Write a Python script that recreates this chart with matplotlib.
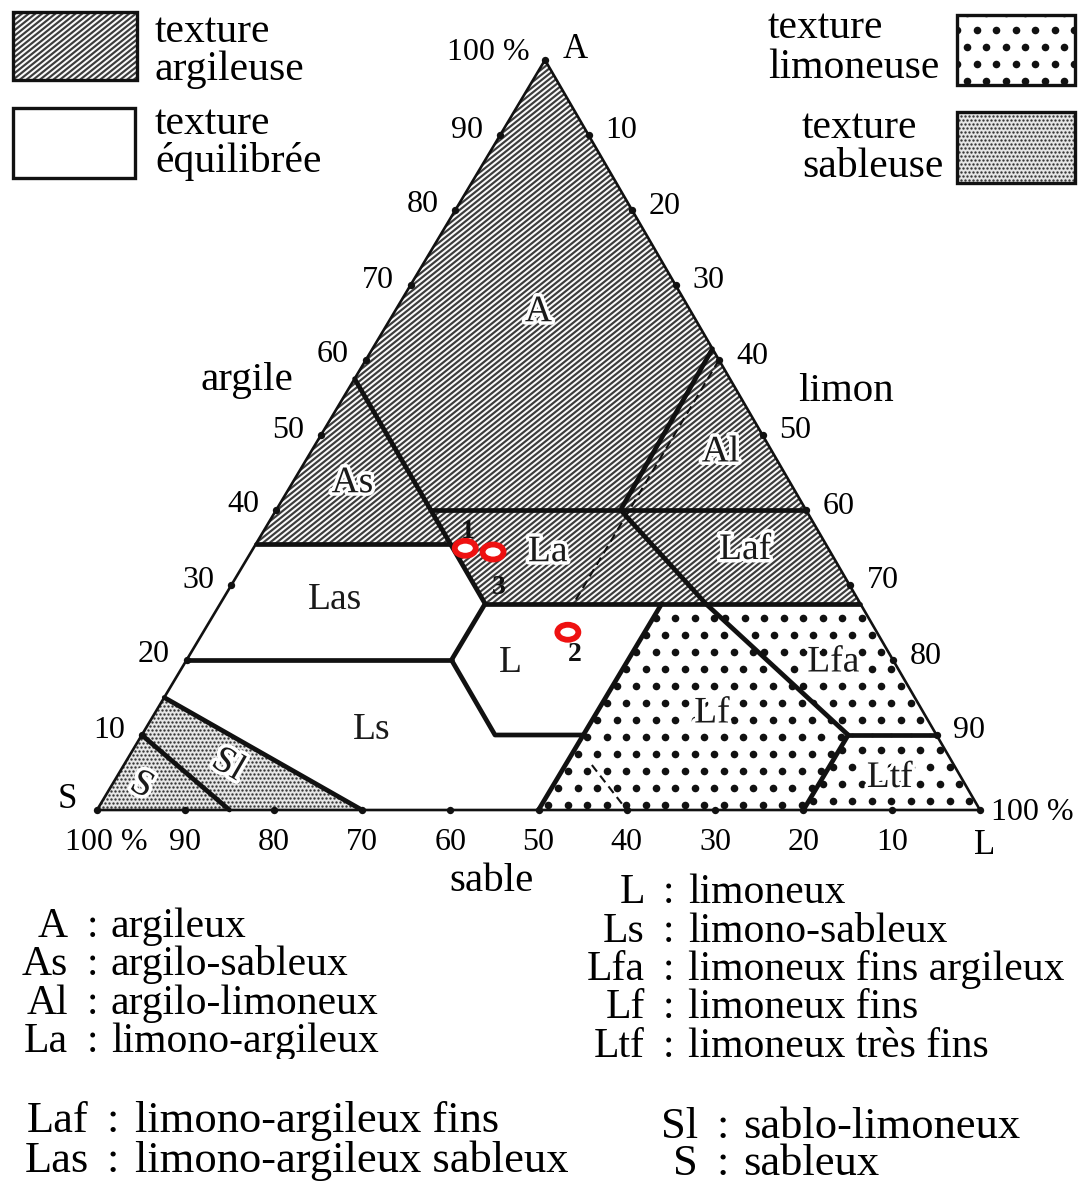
import numpy as np
import matplotlib
matplotlib.use('Agg')
import matplotlib.pyplot as plt
from matplotlib.patches import Polygon, Rectangle, Ellipse
from matplotlib.collections import LineCollection
import matplotlib.patheffects as pe

plt.rcParams['font.family'] = ['Liberation Serif', 'DejaVu Serif']

# ---------------- data (argile %, limon %) ----------------
zone_A = [(100, 0), (57.5, 0), (40, 17.5), (40, 39), (61.5, 38.5)]
zone_Al = [(40, 39), (40, 60), (61.5, 38.5)]
zone_As = [(57.5, 0), (35.5, 0), (35.5, 22)]
zone_La = [(40, 17.5), (40, 39), (27.5, 55), (27.5, 30), (35.5, 22)]
zone_Laf = [(40, 39), (40, 60), (27.5, 72.5), (27.5, 55)]
zone_Las = [(35.5, 0), (35.5, 22), (27.5, 30), (20, 30), (20, 0)]
zone_L = [(27.5, 30), (27.5, 50), (10, 50), (10, 40), (20, 30)]
zone_Ls = [(20, 0), (20, 30), (10, 40), (10, 50), (0, 50), (0, 30), (15, 0)]
zone_Sl = [(15, 0), (0, 30), (0, 15), (10, 0)]
zone_S = [(10, 0), (0, 15), (0, 0)]
zone_Lf = [(0, 50), (27.5, 50), (27.5, 55), (10, 80), (0, 80)]
zone_Lfa = [(27.5, 55), (27.5, 72.5), (10, 90), (10, 80)]
zone_Ltf = [(10, 80), (10, 90), (0, 100), (0, 80)]

zones_clay = [zone_A, zone_Al, zone_As, zone_La, zone_Laf]
zones_balanced = [zone_Las, zone_L, zone_Ls]
zones_silt = [zone_Lf, zone_Lfa, zone_Ltf]
zones_sand = [zone_Sl, zone_S]

boundaries = [
    [(57.5, 0), (27.5, 30)],
    [(35.5, 0), (35.5, 22)],
    [(40, 17.5), (40, 60)],
    [(61.5, 38.5), (40, 39)],
    [(40, 39), (27.5, 55), (10, 80)],
    [(27.5, 30), (27.5, 72.5)],
    [(27.5, 30), (20, 30), (10, 40), (10, 50)],
    [(20, 0), (20, 30)],
    [(0, 50), (27.5, 50)],
    [(10, 80), (10, 90)],
    [(10, 80), (0, 80)],
    [(15, 0), (0, 30)],
    [(10, 0), (0, 15)],
]
dashed_lines = [
    [(60, 40), (27.5, 40)],
    [(6, 53), (0, 60)],
]

tick_values = [10, 20, 30, 40, 50, 60, 70, 80, 90]

zone_names = ['A', 'As', 'Al', 'La', 'Laf', 'Las', 'L', 'Ls', 'Lfa', 'Lf', 'Ltf', 'Sl', 'S']
zone_label_argile = [66.4, 43.6, 47.7, 34.4, 34.7, 28.0, 19.7, 10.7, 19.7, 12.9, 4.3, 6.0, 3.3]
zone_label_limon = [16.3, 6.8, 46.4, 33.6, 55.8, 12.7, 36.8, 25.7, 73.4, 63.1, 87.6, 11.8, 3.4]
zone_label_rot = [0, 0, 0, 0, 0, 0, 0, 0, 0, 0, 0, -30, -28]
zone_label_halo = [True, True, True, True, True, False, False, False, True, True, True, True, True]

sample_ids = ['1', '2', '3']
sample_argile = [34.9, 23.7, 34.4]
sample_limon = [24.0, 41.3, 27.4]

legend_left_abbr = ['A', 'As', 'Al', 'La']
legend_left_text = ['argileux', 'argilo-sableux', 'argilo-limoneux', 'limono-argileux']
legend_right_abbr = ['L', 'Ls', 'Lfa', 'Lf', 'Ltf']
legend_right_text = ['limoneux', 'limono-sableux', 'limoneux fins argileux',
                     'limoneux fins', 'limoneux très fins']
legend_low_left_abbr = ['Laf', 'Las']
legend_low_left_text = ['limono-argileux fins', 'limono-argileux sableux']
legend_low_right_abbr = ['Sl', 'S']
legend_low_right_text = ['sablo-limoneux', 'sableux']

# ---------------- geometry ----------------
W, H = 1081, 1189
SX, SY = 97.0, 810.0
LX, LY = 980.0, 810.0
AX, AY = 545.0, 60.0


def tern(a, l):
    a = np.asarray(a, float)
    l = np.asarray(l, float)
    s = 100.0 - a - l
    x = (a * AX + s * SX + l * LX) / 100.0
    y = (a * AY + s * SY + l * LY) / 100.0
    return x, y


def to_xy(pts):
    a = [p[0] for p in pts]
    l = [p[1] for p in pts]
    x, y = tern(a, l)
    return np.column_stack([x, y])


fig = plt.figure(figsize=(W / 100, H / 100), dpi=100)
ax = fig.add_axes([0, 0, 1, 1])
ax.set_xlim(0, W)
ax.set_ylim(H, 0)
ax.axis('off')


def patch_extent(patch):
    if isinstance(patch, Rectangle):
        x0, y0 = patch.get_xy()
        return np.array([[x0, y0], [x0 + patch.get_width(), y0 + patch.get_height()]])
    return patch.get_path().vertices


def add_hatch(patch, spacing=6.7, slope=0.8, lw=1.55, color='#3c3c3c'):
    ext = patch_extent(patch)
    xmin, ymin = ext.min(axis=0) - 10
    xmax, ymax = ext.max(axis=0) + 10
    segs = []
    c = ymin + slope * xmin
    while c <= ymax + slope * xmax:
        segs.append([(xmin, c - slope * xmin), (xmax, c - slope * xmax)])
        c += spacing * slope
    lc = LineCollection(segs, colors=color, linewidths=lw, zorder=2)
    ax.add_collection(lc)
    lc.set_clip_path(patch)


def add_dots(patch, dx, dy, size, color, zorder=2):
    ext = patch_extent(patch)
    xmin, ymin = ext.min(axis=0) - dx
    xmax, ymax = ext.max(axis=0) + dx
    xs, ys = [], []
    r = 0
    y = ymin
    while y <= ymax:
        off = (dx / 2.0) if r % 2 else 0.0
        row = np.arange(xmin + off, xmax, dx)
        xs.extend(row)
        ys.extend([y] * len(row))
        y += dy
        r += 1
    sc = ax.scatter(xs, ys, s=size, c=color, linewidths=0, zorder=zorder)
    sc.set_clip_path(patch)


SILT_DX, SILT_DY, SILT_S = 19.5, 17.0, 30
SAND_DX, SAND_DY, SAND_S = 4.0, 4.0, 3.0

# ---------------- zones ----------------
for z in zones_clay:
    p = Polygon(to_xy(z), closed=True, facecolor='#fafafa', edgecolor='none', zorder=1)
    ax.add_patch(p)
    add_hatch(p)
for z in zones_balanced:
    p = Polygon(to_xy(z), closed=True, facecolor='white', edgecolor='none', zorder=1)
    ax.add_patch(p)
for z in zones_silt:
    p = Polygon(to_xy(z), closed=True, facecolor='white', edgecolor='none', zorder=1)
    ax.add_patch(p)
    add_dots(p, SILT_DX, SILT_DY, SILT_S, '#111111')
for z in zones_sand:
    p = Polygon(to_xy(z), closed=True, facecolor='#e6e6e6', edgecolor='none', zorder=1)
    ax.add_patch(p)
    add_dots(p, SAND_DX, SAND_DY, SAND_S, '#3a3a3a')

# boundaries
for b in boundaries:
    xy = to_xy(b)
    ax.plot(xy[:, 0], xy[:, 1], color='#111111', lw=3.4, solid_capstyle='round',
            solid_joinstyle='round', zorder=4)
for b in dashed_lines:
    xy = to_xy(b)
    ax.plot(xy[:, 0], xy[:, 1], color='#111111', lw=1.5, dashes=(4, 2.5), zorder=4)

# outline
tri = to_xy([(100, 0), (0, 0), (0, 100), (100, 0)])
ax.plot(tri[:, 0], tri[:, 1], color='#111111', lw=1.9, solid_joinstyle='miter', zorder=4)

# tick dots and labels
tick_font = 23
ta = np.array(tick_values, float)
lx, ly = tern(ta, np.zeros_like(ta))          # argile (left edge)
rx, ry = tern(100 - ta, ta)                   # limon (right edge)
bx, by = tern(np.zeros_like(ta), 100 - ta)    # sable (bottom edge)
vx, vy = tern([100, 0, 0], [0, 0, 100])
ax.scatter(np.concatenate([lx, rx, bx, vx]), np.concatenate([ly, ry, by, vy]),
           s=28, c='#111111', linewidths=0, zorder=5)
for v, x, y in zip(tick_values, lx, ly):
    ax.text(x - 33, y - 5, str(v), fontsize=tick_font, ha='center', va='center', zorder=6)
for v, x, y in zip(tick_values, rx, ry):
    ax.text(x + 33, y - 4, str(v), fontsize=tick_font, ha='center', va='center', zorder=6)
for v, x, y in zip(tick_values, bx, by):
    ax.text(x, y + 33, str(v), fontsize=tick_font, ha='center', va='center', zorder=6)

ax.text(vx[0] - 57, vy[0] - 8, '100 %', fontsize=tick_font, ha='center', va='center')
ax.text(vx[0] + 30, vy[0] - 10, 'A', fontsize=25, ha='center', va='center')
ax.text(vx[1] + 9, vy[1] + 33, '100 %', fontsize=tick_font, ha='center', va='center')
ax.text(vx[1] - 30, vy[1] - 10, 'S', fontsize=25, ha='center', va='center')
ax.text(vx[2] + 52, vy[2] + 2, '100 %', fontsize=tick_font, ha='center', va='center')
ax.text(vx[2] + 5, vy[2] + 35, 'L', fontsize=25, ha='center', va='center')

ax.text(200, 390, 'argile', fontsize=29.5, ha='left', va='baseline')
ax.text(798, 401, 'limon', fontsize=29.5, ha='left', va='baseline')
ax.text(449, 891, 'sable', fontsize=29.5, ha='left', va='baseline')

# zone labels
for name, a, l, rot, halo in zip(zone_names, zone_label_argile, zone_label_limon,
                                 zone_label_rot, zone_label_halo):
    x, y = tern(a, l)
    t = ax.text(x, y, name, fontsize=27, ha='center', va='center', rotation=rot,
                color='#1a1a1a', zorder=6)
    if halo:
        t.set_path_effects([pe.withStroke(linewidth=5, foreground='white')])

# samples
sx, sy = tern(sample_argile, sample_limon)
label_off = {'1': (2, -17), '2': (7, 22), '3': (6, 35)}
for sid, x, y in zip(sample_ids, sx, sy):
    e = Ellipse((x, y), 21, 15, facecolor='white', edgecolor='#ee1111', lw=4.2, zorder=7)
    ax.add_patch(e)
    dx, dy = label_off[sid]
    ax.text(x + dx, y + dy, sid, fontsize=20, fontweight='bold', ha='center',
            va='center', color='#111111', zorder=7)

# ---------------- legends (top) ----------------
r1 = Rectangle((13, 12), 124, 68, facecolor='#fafafa', edgecolor='none', zorder=1)
ax.add_patch(r1)
add_hatch(r1)
ax.add_patch(Rectangle((13, 12), 124, 68, facecolor='none', edgecolor='#111111', lw=2.4, zorder=4))
ax.add_patch(Rectangle((13, 108), 122, 70, facecolor='white', edgecolor='#111111', lw=2.4, zorder=4))
r3 = Rectangle((957, 15), 118, 70, facecolor='white', edgecolor='none', zorder=1)
ax.add_patch(r3)
add_dots(r3, SILT_DX, SILT_DY, SILT_S, '#111111')
ax.add_patch(Rectangle((957, 15), 118, 70, facecolor='none', edgecolor='#111111', lw=2.4, zorder=4))
r4 = Rectangle((957, 112), 118, 71, facecolor='#e6e6e6', edgecolor='none', zorder=1)
ax.add_patch(r4)
add_dots(r4, SAND_DX, SAND_DY, SAND_S, '#3a3a3a')
ax.add_patch(Rectangle((957, 112), 118, 71, facecolor='none', edgecolor='#111111', lw=2.4, zorder=4))

lf = 30
ax.text(155, 42, 'texture', fontsize=lf, ha='left', va='baseline')
ax.text(155, 80, 'argileuse', fontsize=lf, ha='left', va='baseline')
ax.text(155, 134, 'texture', fontsize=lf, ha='left', va='baseline')
ax.text(155, 172, 'équilibrée', fontsize=lf, ha='left', va='baseline')
ax.text(768, 38, 'texture', fontsize=lf, ha='left', va='baseline')
ax.text(768, 78, 'limoneuse', fontsize=lf, ha='left', va='baseline')
ax.text(802, 138, 'texture', fontsize=lf, ha='left', va='baseline')
ax.text(802, 177, 'sableuse', fontsize=lf, ha='left', va='baseline')


# ---------------- legends (bottom) ----------------
def legend_block(abbrs, texts, x_abbr, x_colon, x_text, y0, dy, fs):
    for i, (ab, tx) in enumerate(zip(abbrs, texts)):
        y = y0 + i * dy
        ax.text(x_abbr, y, ab, fontsize=fs, ha='right', va='baseline', zorder=6)
        ax.text(x_colon, y, ':', fontsize=fs, ha='center', va='baseline', zorder=6)
        ax.text(x_text, y, tx, fontsize=fs, ha='left', va='baseline', zorder=6)


legend_block(legend_left_abbr, legend_left_text, 68, 92, 111, 937, 38.3, 30)
legend_block(legend_right_abbr, legend_right_text, 645, 668, 688, 903, 38.5, 30)
legend_block(legend_low_left_abbr, legend_low_left_text, 89, 113, 135, 1132, 40, 32)
legend_block(legend_low_right_abbr, legend_low_right_text, 698, 723, 743, 1138, 37, 32)

# white band that crops the lower edge of the first legend blocks
ax.add_patch(Rectangle((0, 1059), 1081, 24, facecolor='white', edgecolor='none', zorder=8))

fig.savefig('out.png', dpi=100)
